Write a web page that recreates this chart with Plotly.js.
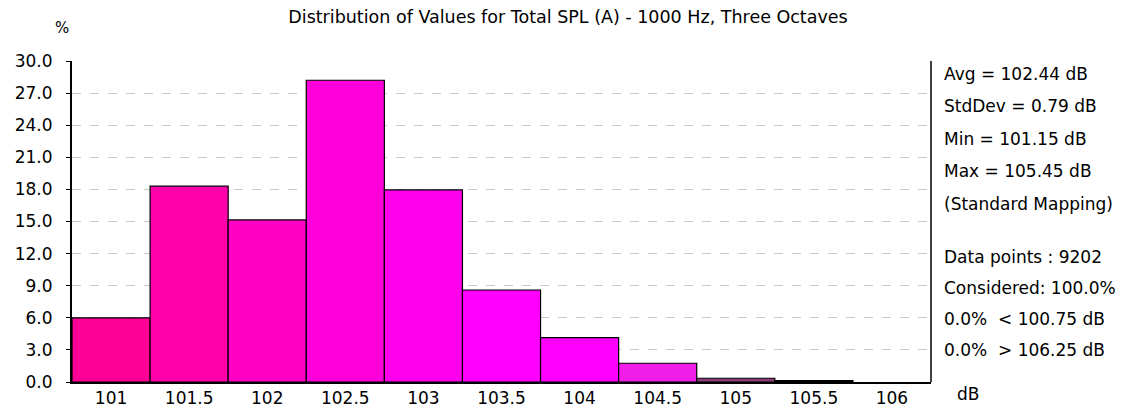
<!DOCTYPE html>
<html>
<head>
<meta charset="utf-8">
<script src="https://cdn.plot.ly/plotly-3.0.1.min.js"></script>
<style>html,body{margin:0;padding:0;background:#fff;}#chart{width:1133px;height:410px;}</style>
</head>
<body>
<div id="chart"></div>
<script>
var categories = [101, 101.5, 102, 102.5, 103, 103.5, 104, 104.5, 105, 105.5, 106];
var tickLabels = ["101", "101.5", "102", "102.5", "103", "103.5", "104", "104.5", "105", "105.5", "106"];
var percents = [6.0, 18.3, 15.15, 28.2, 17.95, 8.6, 4.15, 1.75, 0.35, 0.12, 0.0];
var barColors = ["#FF0096", "#FF00AA", "#FF00C4", "#FF00DA", "#FF00EC", "#FF00FF", "#FF00FF", "#F01EE8", "#8C3C78", "#000000", "#FFFFFF"];
var yTicks = [0, 3, 6, 9, 12, 15, 18, 21, 24, 27, 30];
var statsTop = ["Avg = 102.44 dB", "StdDev = 0.79 dB", "Min = 101.15 dB", "Max = 105.45 dB", "(Standard Mapping)"];
var statsBottom = ["Data points : 9202", "Considered: 100.0%", "0.0%  < 100.75 dB", "0.0%  > 106.25 dB"];
var titleText = "Distribution of Values for Total SPL (A) - 1000 Hz, Three Octaves";

var FONT = "DejaVu Sans, Liberation Sans, Arial, sans-serif";
var plotTop = 61, plotBottom = 382, H = 410, W = 1133;
function py(pix){ return (plotBottom - pix) / (plotBottom - plotTop); }

var annotations = [];
var topY = [74, 106, 139, 171, 204];
statsTop.forEach(function(t, i){
  annotations.push({text: t, xref: "paper", yref: "paper", x: 1, xshift: 11, y: py(topY[i]), xanchor: "left", yanchor: "middle", showarrow: false, font: {family: FONT, size: 17, color: "#000"}});
});
var botY = [257, 288, 319, 350];
statsBottom.forEach(function(t, i){
  annotations.push({text: t, xref: "paper", yref: "paper", x: 1, xshift: 11, y: py(botY[i]), xanchor: "left", yanchor: "middle", showarrow: false, font: {family: FONT, size: 17, color: "#000"}});
});
annotations.push({text: "dB", xref: "paper", yref: "paper", x: 1, xshift: 37, y: py(394), xanchor: "center", yanchor: "middle", showarrow: false, font: {family: FONT, size: 17, color: "#000"}});
annotations.push({text: "%", xref: "paper", yref: "paper", x: 0, xshift: -10, y: py(28), xanchor: "center", yanchor: "middle", showarrow: false, font: {family: FONT, size: 15, color: "#000"}});

var lineWidths = categories.map(function(c, i){ return percents[i] > 0 ? 1.2 : 0; });

var trace = {
  type: "bar",
  x: categories,
  y: percents,
  width: 0.5,
  marker: {color: barColors, line: {color: "#000", width: lineWidths}},
  hoverinfo: "x+y"
};

var layout = {
  width: W, height: H,
  margin: {l: 72, r: 202, t: plotTop, b: H - plotBottom, pad: 0},
  paper_bgcolor: "#fff", plot_bgcolor: "#fff",
  bargap: 0,
  showlegend: false,
  title: {text: titleText, xref: "container", x: 568 / W, xanchor: "center", yref: "container", y: 1 - 17/H, yanchor: "middle", font: {family: FONT, size: 17.5, color: "#000"}},
  xaxis: {
    range: [100.75, 106.25], tickmode: "array", tickvals: categories, ticktext: tickLabels,
    showgrid: false, zeroline: false, showline: true, linecolor: "#000", linewidth: 1.5,
    ticks: "", ticklabelstandoff: 0, tickfont: {family: FONT, size: 17, color: "#000"}, fixedrange: true
  },
  yaxis: {
    range: [0, 30], tickmode: "array", tickvals: yTicks, ticktext: yTicks.map(function(v){return v.toFixed(1);}),
    showgrid: true, gridcolor: "#C8C8C8", griddash: "dash", gridwidth: 1,
    zeroline: false, showline: true, linecolor: "#000", linewidth: 2,
    ticks: "outside", ticklen: 4, tickcolor: "#000", tickwidth: 1, ticklabelstandoff: 10,
    tickfont: {family: FONT, size: 17, color: "#000"}, fixedrange: true
  },
  shapes: [{type: "line", xref: "paper", yref: "paper", x0: 1, x1: 1, y0: 0, y1: 1, line: {color: "#000", width: 1.5}}],
  annotations: annotations
};

Plotly.newPlot("chart", [trace], layout, {displayModeBar: false, staticPlot: true});
</script>
</body>
</html>
